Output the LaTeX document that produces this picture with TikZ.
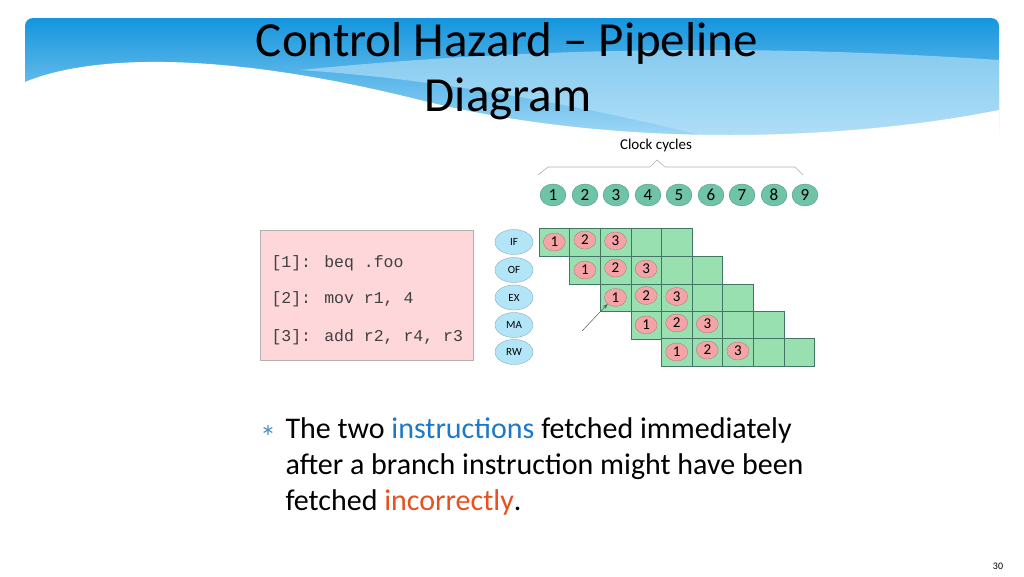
\documentclass[tikz,border=0pt]{standalone}
\usepackage{fontspec}
\setmainfont{Carlito}
\newfontfamily\monof{Liberation Mono}
\newfontfamily\djv{DejaVu Sans}
\usetikzlibrary{arrows.meta}
\definecolor{teal1}{HTML}{6FC3A6}
\definecolor{cellg}{HTML}{98E0B0}
\definecolor{pinkc}{HTML}{F4A3A6}
\definecolor{stagec}{HTML}{B3E5F8}
\definecolor{codebg}{HTML}{FDD7D9}
\definecolor{bl1}{HTML}{1595DD}
\definecolor{bl2}{HTML}{9ED7F5}
\definecolor{instc}{HTML}{1E78C8}
\definecolor{incc}{HTML}{E8501E}
\tikzset{
 clk/.style={ellipse,fill=teal1,draw=teal1!70!black,line width=0.3pt,minimum width=26pt,minimum height=22pt,inner sep=0pt,font=\fontsize{17}{17}\selectfont},
 cell/.style={rectangle,fill=cellg,draw=teal1!60!black,line width=0.4pt,minimum width=30.6pt,minimum height=27.5pt,inner sep=0pt},
 inst/.style={ellipse,fill=pinkc,draw=pinkc!70!black,line width=0.3pt,minimum width=22pt,minimum height=18pt,inner sep=0pt,font=\fontsize{15}{15}\selectfont},
 stage/.style={ellipse,fill=stagec,draw=stagec!70!black,line width=0.3pt,minimum width=38pt,minimum height=25pt,inner sep=0pt,font=\fontsize{11}{11}\selectfont},
 codet/.style={anchor=west,font=\monof\fontsize{16.5}{16.5}\selectfont,text=black!75},
}
\usetikzlibrary{shapes.geometric}
\begin{document}
\begin{tikzpicture}[x=1pt,y=-1pt]
\useasboundingbox (0,0) rectangle (1024,576);
\fill[white] (0,0) rectangle (1024,576);
% banner
\shade[top color=bl1,bottom color=bl2,rounded corners=8pt] (25,18) rectangle (999,135);
\fill[white!30!bl2,opacity=0.6] (300,70) .. controls (600,40) and (850,50) .. (999,60) -- (999,135) -- (700,135) .. controls (600,110) and (450,80) .. (300,70) -- cycle;
\fill[white] (25,82) .. controls (90,55) and (220,50) .. (420,100) .. controls (620,150) and (850,140) .. (999,110) -- (999,140) -- (20,140) -- cycle;
\node (t1) at (507,43) {\fontsize{49}{49}\selectfont Control Hazard – Pipeline};
\node (t2) at (508,99) {\fontsize{49}{49}\selectfont Diagram};
% clock
\node (cc) at (656,145) {\fontsize{15}{15}\selectfont Clock cycles};
\coordinate (b1) at (538,175); \coordinate (b2) at (548,167); \coordinate (b3) at (650,167); \coordinate (b4) at (657,160); \coordinate (b5) at (665,167); \coordinate (b6) at (795,167); \coordinate (b7) at (803,175);
\draw[gray!60,line width=0.6pt] (b1)--(b2)--(b3)--(b4)--(b5)--(b6)--(b7);
\foreach \i/\x in {1/553,2/585,3/616,4/648,5/679,6/711,7/742,8/774,9/805}
  \node[clk] (c\i) at (\x,195) {\i};
% grid
\foreach \r/\y/\s in {0/242/IF,1/270/OF,2/297.5/EX,3/325/MA,4/352/RW}{
  \node[stage] (s\r) at (514,\y) {\s};
  \foreach \c in {0,...,4}{
    \pgfmathsetmacro{\xx}{554.3+30.6*(\r+\c)}
    \node[cell] (g\r\c) at (\xx,\y) {};
  }
  \pgfmathsetmacro{\xa}{554.3+30.6*\r}
  \pgfmathsetmacro{\xb}{584.9+30.6*\r}
  \pgfmathsetmacro{\xc}{615.5+30.6*\r}
  \node[inst] (i\r a) at (\xa,\y) {1};
  \node[inst] (i\r b) at (\xb,\y-2) {2};
  \node[inst] (i\r c) at (\xc,\y-1) {3};
}
\coordinate (ar) at (582,331);
\draw[-{Stealth[length=5pt]},gray!70!black,line width=0.5pt] (ar) -- (i2a.south west);
% code box
\node[draw=gray!60,fill=codebg,minimum width=213pt,minimum height=130pt,inner sep=0pt] (code) at (366.5,295) {};
\node[codet] (l1) at (268,263) {[1]: beq .foo};
\node[codet] (l2) at (268,299) {[2]: mov r1, 4};
\node[codet] (l3) at (268,337) {[3]: add r2, r4, r3};
% bullet text
\node[text=instc!80] (bul) at (268,430) {\djv\fontsize{16}{16}\selectfont ∗};
\node[anchor=west,align=left,font=\fontsize{30}{36}\selectfont] (txt) at (282,466) {The two \textcolor{instc}{instructions} fetched immediately\\after a branch instruction might have been\\fetched \textcolor{incc}{incorrectly}.};
\node (pg) at (998,566) {\fontsize{10}{10}\selectfont 30};
\end{tikzpicture}
\end{document}
